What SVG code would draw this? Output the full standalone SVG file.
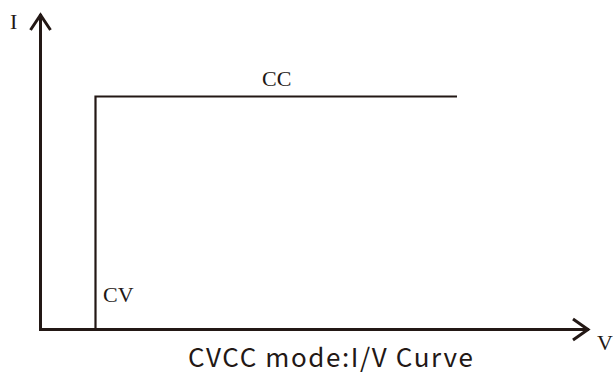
<svg xmlns="http://www.w3.org/2000/svg" width="613" height="374" viewBox="0 0 613 374">
<style>
.ax{stroke:#231815;stroke-width:3;fill:none}
.ln{stroke:#231815;stroke-width:2.2;fill:none}
.lbl{font-family:"Liberation Serif",serif;font-size:22px;fill:#231815}
.ttl{font-family:"Noto Sans CJK SC","Open Sans",sans-serif;font-size:26px;fill:#231815}
</style>
<rect width="613" height="374" fill="#fff"/>
<g id="connectors">
<path class="ax" d="M40.5,14 V329.5 H589"/>
<path class="ax" d="M30.5,30 L40.5,15 L50.5,30"/>
<path class="ax" d="M573,319 L588,329.5 L573,340"/>
<path class="ln" d="M95.5,329 V96.5 H457"/>
</g>
<g id="axis-i"><text class="lbl" x="10" y="29">I</text></g>
<g id="axis-v"><text class="lbl" x="597" y="350">V</text></g>
<g id="cc"><text class="lbl" x="262" y="86">CC</text></g>
<g id="cv"><text class="lbl" x="103" y="302">CV</text></g>
<g id="title"><text class="ttl" x="188" y="367" textLength="285" lengthAdjust="spacing">CVCC mode:I/V Curve</text></g>
</svg>
